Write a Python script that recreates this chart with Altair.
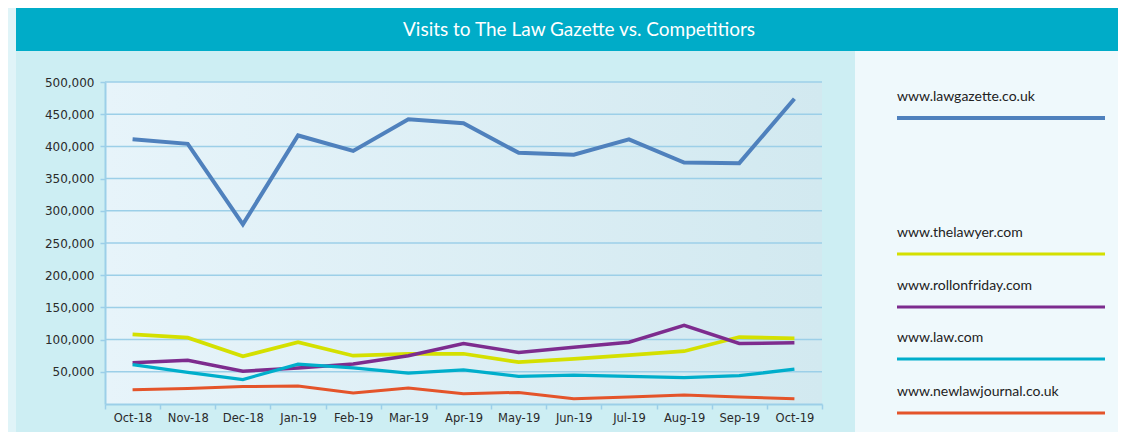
import altair as alt
import pandas as pd

months = ["Oct-18", "Nov-18", "Dec-18", "Jan-19", "Feb-19", "Mar-19", "Apr-19",
          "May-19", "Jun-19", "Jul-19", "Aug-19", "Sep-19", "Oct-19"]
sites = ["www.lawgazette.co.uk", "www.thelawyer.com", "www.rollonfriday.com",
         "www.law.com", "www.newlawjournal.co.uk"]
lawgazette = [411000, 404000, 279000, 417000, 393000, 442000, 436000,
              390000, 387000, 411000, 375000, 374000, 474000]
thelawyer = [108000, 103000, 74000, 96000, 75000, 78000, 78000,
             65000, 70000, 76000, 82000, 104000, 102000]
rollonfriday = [64000, 68000, 51000, 56000, 62000, 75000, 94000,
                80000, 88000, 96000, 122000, 94000, 95000]
lawcom = [61000, 49000, 38000, 62000, 56000, 48000, 53000,
          43000, 45000, 43000, 41000, 44000, 54000]
newlawjournal = [22000, 24000, 27000, 28000, 17000, 25000, 16000,
                 18000, 8000, 11000, 14000, 11000, 8000]
colors = ["#4f81bd", "#d4e000", "#7d2c8e", "#00aecb", "#e4542a"]
widths = [4, 3, 3, 3, 3]
y_ticks = [50000, 100000, 150000, 200000, 250000, 300000, 350000, 400000, 450000, 500000]
title_text = "Visits to The Law Gazette vs. Competitiors"

series = [lawgazette, thelawyer, rollonfriday, lawcom, newlawjournal]
rows = []
for s, vals in zip(sites, series):
    for i, (m, v) in enumerate(zip(months, vals)):
        rows.append({"site": s, "month": m, "idx": i, "visits": v})
df = pd.DataFrame(rows)
grid_df = pd.DataFrame({"v": y_ticks})

W, H = 717, 322
one = pd.DataFrame({"k": [0]})

grid_col = "#9ccfe8"
x_enc = alt.X("month:N", sort=months, bandPosition=0.5,
              scale=alt.Scale(type="band", paddingInner=0, paddingOuter=0),
              axis=alt.Axis(title=None, labelAngle=0, tickBand="extent", zindex=1,
                            labelFont="DejaVu Sans", labelFontSize=11.5, labelColor="#2a2a2a",
                            domainColor=grid_col, domainWidth=2, tickColor=grid_col,
                            tickWidth=1.5, tickSize=5, labelPadding=3, grid=False))
y_scale = alt.Scale(domain=[0, 500000], nice=False)
y_axis = alt.Axis(title=None, values=y_ticks, format=",d", zindex=1,
                  labelOverlap=False,
                  labelFont="DejaVu Sans", labelFontSize=12, labelColor="#2a2a2a",
                  domainColor=grid_col, domainWidth=2, tickColor=grid_col,
                  tickWidth=1.5, tickSize=5, labelPadding=6, grid=False)

lines = alt.Chart(df).mark_line(strokeJoin="miter").encode(
    x=x_enc,
    y=alt.Y("visits:Q", scale=y_scale, axis=y_axis),
    color=alt.Color("site:N", sort=sites,
                    scale=alt.Scale(domain=sites, range=colors), legend=None),
    strokeWidth=alt.StrokeWidth("site:N",
                                scale=alt.Scale(domain=sites, range=widths), legend=None),
    order=alt.Order("idx:Q"),
)

gridlines = alt.Chart(grid_df).mark_rule(color=grid_col, strokeWidth=1.5).encode(
    y=alt.Y("v:Q", scale=y_scale, axis=y_axis), x=alt.value(0), x2=alt.value(W))

def rect(x, x2, y, y2, color):
    return alt.Chart(one).mark_rect(color=color).encode(
        x=alt.value(x), x2=alt.value(x2), y=alt.value(y), y2=alt.value(y2))

grad = alt.Gradient(gradient="linear",
                    stops=[alt.GradientStop(color="#e7f4fa", offset=0),
                           alt.GradientStop(color="#d2e9f0", offset=1)],
                    x1=0, x2=1, y1=0, y2=0)
plot_bg = alt.Chart(one).mark_rect(fill=grad).encode(
    x=alt.value(0), x2=alt.value(W), y=alt.value(0), y2=alt.value(H))

# page decorations (plot origin at page x=105, y=82)
left_strip = rect(-97, -89, -74, 360, "#e0f4f8")
legend_panel = rect(750, 1030, -31, 360, "#eff9fc")
title_band = rect(-89, 1030, -74, -31, "#00acc8")
title = alt.Chart(one).mark_text(font="Lato", fontSize=19, color="white",
                                 align="center", baseline="middle").encode(
    x=alt.value(474), y=alt.value(-52), text=alt.value(title_text))

legend_layers = []
label_y = [15, 151, 204, 256, 310]
rule_y = [36, 172, 225, 277, 331]
for s, c, w, ly, ry in zip(sites, colors, widths, label_y, rule_y):
    legend_layers.append(alt.Chart(one).mark_text(
        font="Lato", fontSize=14, color="#222222", align="left", baseline="middle").encode(
        x=alt.value(792), y=alt.value(ly), text=alt.value(s)))
    legend_layers.append(alt.Chart(one).mark_rule(color=c, strokeWidth=w).encode(
        x=alt.value(792), x2=alt.value(1000), y=alt.value(ry)))

chart = alt.layer(left_strip, legend_panel, title_band, title, plot_bg, gridlines,
                  lines, *legend_layers).properties(
    width=W, height=H,
    padding={"left": 97, "top": 74, "right": 296, "bottom": 28},
    autosize=alt.AutoSizeParams(type="none"),
    background="#cdeef3",
).configure_view(stroke=None)

chart.save("out.html", embed_options={"renderer": "svg", "actions": False})
